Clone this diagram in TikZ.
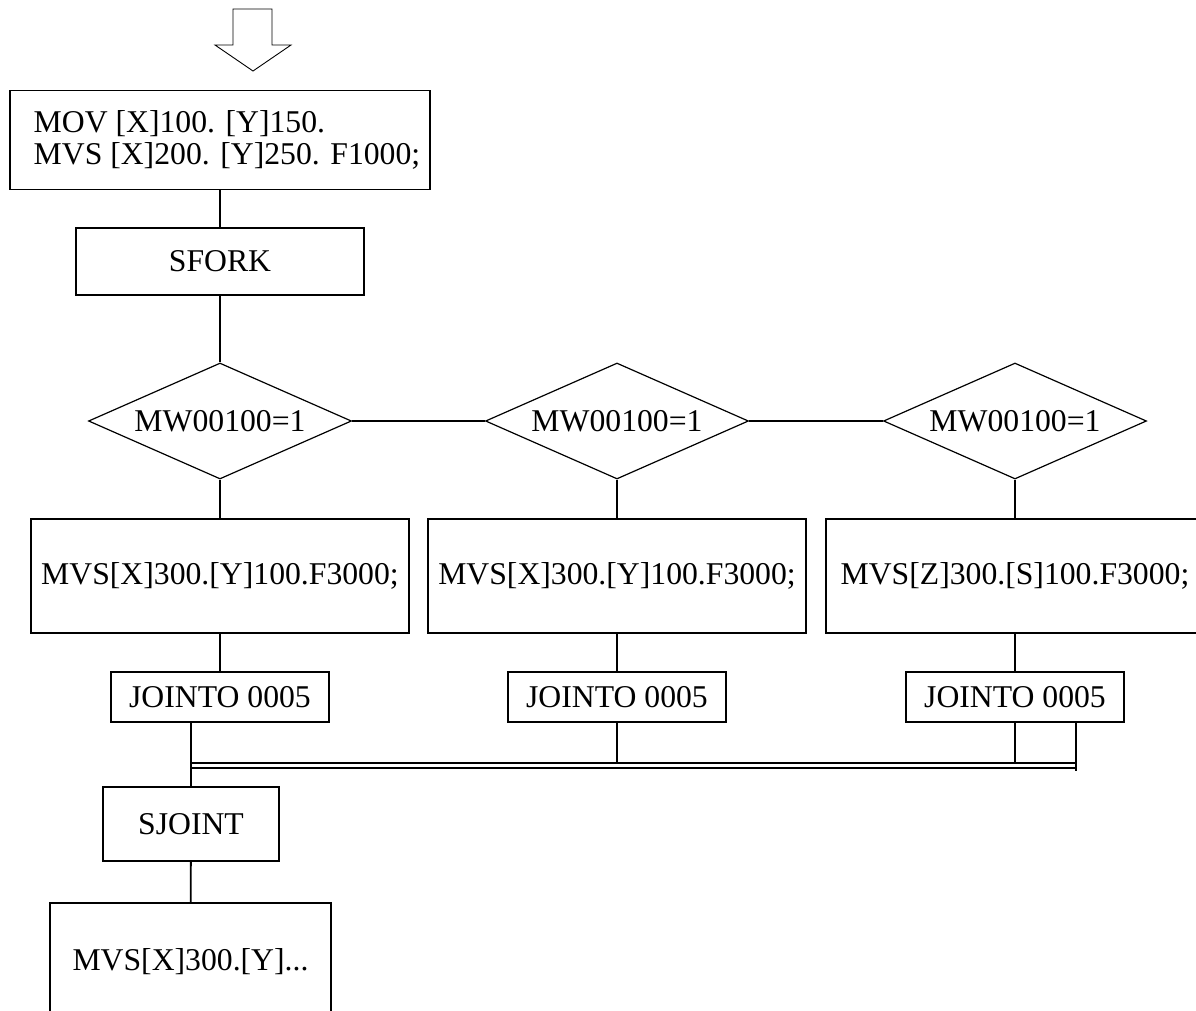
\documentclass[tikz,border=0pt]{standalone}
\usepackage{fontspec}
\setmainfont{Liberation Serif}
\usetikzlibrary{shapes.geometric}

\begin{document}
\begin{tikzpicture}[x=1pt, y=-1pt,
  every node/.style={font=\fontsize{31.7}{32}\selectfont, inner sep=0pt},
  box/.style={draw, line width=1.8pt},
  cond/.style={draw, diamond, line width=1.2pt, shape aspect=2.27,
    minimum width=263pt, minimum height=116pt},
  link/.style={line width=1.8pt},
  rail/.style={line width=1.2pt, double, double distance=3.8pt}]
\useasboundingbox (0,0) rectangle (1196,1010);
\clip (0,0) rectangle (1196,1010);

% entry arrow
\draw[line width=0.9pt] (233,9) -- (272,9) -- (272,45) -- (291,45) -- (253,71)
  -- (215,45) -- (233,45) -- cycle;

\node[box, minimum width=420pt, minimum height=99pt, align=left] (start) at (220,140)
  {\hspace*{14pt}MOV [X]100. [Y]150.\\\hspace*{14pt}MVS [X]200. [Y]250. F1000;};
\node[box, minimum width=288pt, minimum height=67pt] (fork) at (220,261.5) {SFORK};
\draw[link] (start) -- (fork);

% three parallel branches
\foreach \n/\x/\t in {a/220/{MVS[X]300.[Y]100.F3000;},
                      b/617/{MVS[X]300.[Y]100.F3000;},
                      c/1015/{MVS[Z]300.[S]100.F3000;}}
{
  \node[cond] (cond\n) at (\x,421) {MW00100=1};
  \node[box, minimum width=378pt, minimum height=114pt] (move\n) at (\x,576) {\t};
  \node[box, minimum width=218pt, minimum height=50pt] (join\n) at (\x,697) {JOINTO 0005};
  \draw[link] (cond\n) -- (move\n);
  \draw[link] (move\n) -- (join\n);
}
\draw[link] (fork) -- (conda);
\draw[line width=1.2pt] (conda) -- (condb) (condb) -- (condc);

\node[box, minimum width=176pt, minimum height=74pt] (sjoint) at (191,824) {SJOINT};
\node[box, minimum width=281pt, minimum height=118pt] (next) at (190.5,962) {MVS[X]300.[Y]...};

% join rail
\coordinate (railL) at (191,765.5);
\coordinate (railR) at (1076,765.5);
\coordinate (railtop) at (191,763);
\coordinate (railend) at (1076,771);
\draw[rail] (railL) -- (railR);

\draw[link] (sjoint.north |- joina.south) -- (sjoint);
\draw[link] (joinb) -- (joinb.south |- railtop);
\draw[link] (joinc) -- (joinc.south |- railtop);
\draw[link] (joinc.south -| railend) -- (railend);
\draw[link] (sjoint) -- (next);
\end{tikzpicture}
\end{document}
